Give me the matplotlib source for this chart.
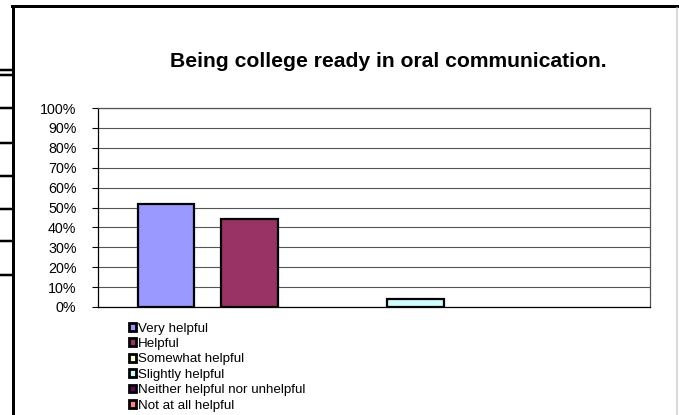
import numpy as np
import matplotlib
matplotlib.use("Agg")
import matplotlib.pyplot as plt
from matplotlib.lines import Line2D
from matplotlib.patches import Patch

# survey answers (single question, one bar per response)
responses = ["Very helpful", "Helpful", "Somewhat helpful", "Slightly helpful",
             "Neither helpful nor unhelpful", "Not at all helpful"]
shares = [52, 44, 0, 4, 0, 0]
yticks = [0, 10, 20, 30, 40, 50, 60, 70, 80, 90, 100]
title = "Being college ready in oral communication."

# old Excel default series palette
bar_colors = ["#9999FF", "#993366", "#FFFFCC", "#CCFFFF", "#660066", "#FF8080"]

plt.rcParams["font.family"] = ["Liberation Sans", "DejaVu Sans"]

W, H = 679, 415
fig = plt.figure(figsize=(W / 100, H / 100), dpi=100)


def fx(px):
    return px / W


def fy(py):
    return 1 - py / H


# plot area
ax = fig.add_axes([fx(98), fy(307), fx(650) - fx(98), fy(108) - fy(307)])

x = np.arange(len(responses))
for i, (val, col) in enumerate(zip(shares, bar_colors)):
    if val <= 0:
        continue  # excel draws nothing for an empty series
    ax.bar(x[i], val, width=0.675, color=col, edgecolor="black",
           linewidth=1.6, zorder=3)

ax.set_xlim(-0.825, len(responses) - 1 + 0.825)
ax.set_ylim(0, 100)
ax.set_yticks(yticks)
ax.set_yticklabels([f"{t}%" for t in yticks], fontsize=10.3)
ax.set_xticks([])
ax.tick_params(axis="y", direction="out", length=4, width=0.8, pad=11.5,
               color="black")
ax.yaxis.grid(True, color="#555555", linewidth=0.8, zorder=0)
ax.set_axisbelow(True)
for side in ["left", "bottom"]:
    ax.spines[side].set_color("black")
    ax.spines[side].set_linewidth(0.9)
for side in ["top", "right"]:
    ax.spines[side].set_color("#555555")
    ax.spines[side].set_linewidth(0.9)

fig.text(fx(388.5), fy(67), title, ha="center", va="baseline",
         fontsize=15.2, fontweight="bold")

handles = [Patch(facecolor=c, edgecolor="black", linewidth=2.0, label=lab)
           for lab, c in zip(responses, bar_colors)]
ax.legend(handles=handles, loc="upper left", bbox_to_anchor=(fx(129), fy(322.5)),
          bbox_transform=fig.transFigure, frameon=False, fontsize=9.6,
          handlelength=0.5, handleheight=0.5, handletextpad=0.15,
          labelspacing=0.26, borderpad=0, borderaxespad=0)

# chart frame and spreadsheet cell borders showing at the left
lw_px = 72 / 100
fig.add_artist(Line2D([fx(13), fx(13)], [fy(6), fy(415)], color="black",
                      linewidth=3 * lw_px))
fig.add_artist(Line2D([fx(12), fx(677)], [fy(6.5), fy(6.5)], color="black",
                      linewidth=3 * lw_px))
fig.add_artist(Line2D([fx(677), fx(677)], [fy(8), fy(415)], color="#cccccc",
                      linewidth=1.5 * lw_px))
for yy in [70, 75, 108, 143, 176, 209, 241, 275]:
    fig.add_artist(Line2D([0, fx(12)], [fy(yy), fy(yy)], color="black",
                          linewidth=2.5 * lw_px))

fig.savefig("out.png", dpi=100)
